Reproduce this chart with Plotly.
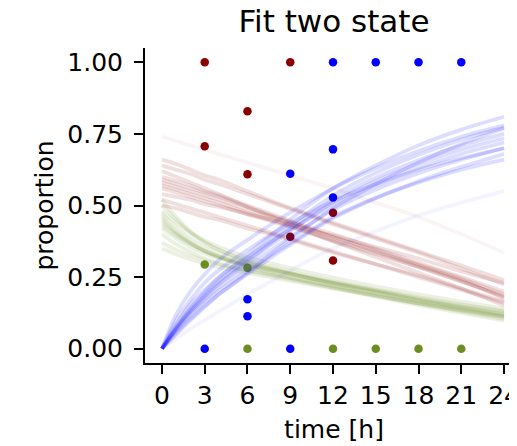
import plotly.graph_objects as go

# ---- observed data points ----
red_t = [3, 3, 6, 6, 9, 9, 12, 12]
red_y = [1.0, 0.707, 0.829, 0.609, 1.0, 0.391, 0.475, 0.308]

blue_t = [3, 6, 6, 9, 9, 12, 12, 12, 15, 18, 21]
blue_y = [0.0, 0.173, 0.113, 0.611, 0.0, 1.0, 0.696, 0.528, 1.0, 1.0, 1.0]

green_t = [3, 6, 6, 12, 15, 18, 21]
green_y = [0.294, 0.283, 0.0, 0.0, 0.0, 0.0, 0.0]

# ---- fitted sample curves ----
curve_t = [0, 1, 2, 3, 4, 6, 8, 10, 12, 15, 18, 21, 24]

red_curves = [
    [.58, .565, .55, .535, .52, .485, .455, .425, .39, .345, .295, .245, .19],
    [.64, .625, .61, .59, .575, .54, .505, .47, .435, .385, .335, .28, .225],
    [.52, .505, .49, .475, .46, .43, .40, .37, .34, .295, .25, .205, .16],
    [.60, .585, .57, .55, .535, .50, .465, .43, .40, .35, .30, .25, .20],
    [.56, .545, .53, .515, .50, .47, .44, .41, .375, .33, .285, .235, .185],
    [.62, .60, .58, .56, .54, .495, .455, .415, .375, .32, .265, .21, .15],
    [.54, .53, .52, .505, .495, .47, .445, .42, .395, .355, .315, .27, .23],
    [.57, .555, .54, .525, .51, .475, .445, .41, .38, .335, .285, .235, .18],
    [.66, .645, .625, .605, .59, .55, .51, .475, .44, .39, .34, .29, .24],
    [.50, .49, .475, .46, .45, .42, .395, .365, .335, .295, .255, .21, .165],
    [.59, .575, .56, .545, .53, .495, .46, .425, .39, .34, .29, .24, .175],
    [.74, .725, .71, .695, .68, .65, .62, .59, .56, .51, .46, .40, .335],
]

green_curves = [
    [.44, .40, .368, .342, .322, .292, .27, .25, .228, .20, .17, .145, .12],
    [.50, .45, .405, .37, .345, .308, .282, .258, .236, .205, .175, .148, .125],
    [.37, .345, .325, .308, .295, .274, .256, .238, .22, .193, .165, .14, .115],
    [.47, .425, .385, .355, .333, .30, .275, .252, .23, .20, .17, .143, .118],
    [.42, .385, .355, .332, .315, .29, .27, .25, .231, .204, .177, .152, .13],
    [.48, .44, .405, .378, .355, .32, .294, .27, .248, .218, .19, .164, .14],
    [.40, .365, .338, .315, .298, .272, .252, .232, .213, .185, .158, .133, .11],
    [.52, .46, .41, .372, .345, .305, .276, .25, .227, .195, .165, .138, .113],
    [.35, .33, .312, .297, .285, .265, .246, .228, .21, .184, .158, .135, .112],
    [.45, .405, .37, .342, .32, .288, .262, .24, .218, .187, .157, .13, .104],
    [.43, .395, .365, .34, .322, .295, .273, .253, .233, .206, .18, .155, .132],
    [.46, .41, .37, .34, .318, .283, .258, .235, .213, .182, .152, .125, .098],
]

blue_curves = [
    [0, .07, .13, .18, .225, .30, .375, .445, .51, .585, .645, .695, .735],
    [0, .063, .117, .162, .203, .27, .338, .40, .46, .527, .58, .625, .66],
    [0, .077, .143, .198, .248, .33, .41, .49, .56, .64, .71, .765, .81],
    [0, .066, .124, .171, .214, .285, .356, .423, .485, .556, .613, .66, .70],
    [0, .074, .137, .189, .236, .315, .394, .467, .535, .614, .677, .73, .772],
    [0, .10, .17, .23, .275, .345, .41, .465, .515, .575, .625, .665, .70],
    [0, .05, .10, .145, .19, .265, .345, .42, .49, .575, .65, .715, .77],
    [0, .085, .155, .205, .25, .32, .385, .445, .50, .57, .63, .68, .72],
    [0, .071, .133, .184, .23, .306, .383, .454, .52, .597, .658, .709, .75],
    [0, .055, .105, .15, .19, .26, .33, .395, .455, .525, .585, .635, .68],
    [0, .035, .07, .10, .13, .19, .245, .30, .35, .41, .465, .51, .55],
    [0, .12, .20, .26, .31, .38, .445, .505, .56, .63, .69, .74, .78],
]

x_ticks = [0, 3, 6, 9, 12, 15, 18, 21, 24]
y_ticks = [0.0, 0.25, 0.5, 0.75, 1.0]
y_tick_text = ["0.00", "0.25", "0.50", "0.75", "1.00"]

RED = "#8b0000"
BLUE = "#0000ff"
GREEN = "#6b8e23"
FONT = "DejaVu Sans"

fig = go.Figure()

for t, y, c in [(red_t, red_y, RED), (blue_t, blue_y, BLUE), (green_t, green_y, GREEN)]:
    fig.add_trace(go.Scatter(x=t, y=y, mode="markers",
                             marker=dict(color=c, size=8.5, line=dict(width=0)),
                             showlegend=False, hoverinfo="skip"))

for curves, c, op in [(red_curves, RED, 0.12), (green_curves, GREEN, 0.12), (blue_curves, BLUE, 0.13)]:
    for i, cy in enumerate(curves):
        o = op
        if c == RED and i == len(curves) - 1:
            o = 0.04
        if c == BLUE and i == 10:
            o = 0.04
        fig.add_trace(go.Scatter(x=curve_t, y=cy, mode="lines",
                                 line=dict(color=c, width=3.75, shape="spline"),
                                 opacity=o, showlegend=False, hoverinfo="skip"))

axis_common = dict(
    showgrid=False, zeroline=False, showline=True, linewidth=2, linecolor="black",
    ticks="outside", ticklen=9, tickwidth=2, tickcolor="black",
    tickfont=dict(family=FONT, size=25, color="black"),
    automargin=False, ticklabeloverflow="allow",
)

# page body has an 8px margin, so the figure is sized/offset to compensate;
# the plot extends slightly past the window's right edge like the cropped original
fig.update_layout(
    width=515, height=438,
    margin=dict(l=137, r=0, t=40, b=83, pad=0),
    plot_bgcolor="white", paper_bgcolor="white",
    title=dict(text="Fit two state", x=0.5, xref="paper", xanchor="center",
               y=0.97, yref="container", yanchor="middle",
               font=dict(family=FONT, size=31, color="black")),
    xaxis=dict(range=[-1.19, 25.33], tickvals=x_ticks,
               title=dict(text="time [h]", font=dict(family=FONT, size=25, color="black"), standoff=11),
               **axis_common),
    yaxis=dict(range=[-0.05, 1.05], tickvals=y_ticks, ticktext=y_tick_text,
               title=dict(text="proportion", font=dict(family=FONT, size=25, color="black"), standoff=7),
               ticklabelstandoff=6,
               **axis_common),
)

fig.write_html("out.html")
